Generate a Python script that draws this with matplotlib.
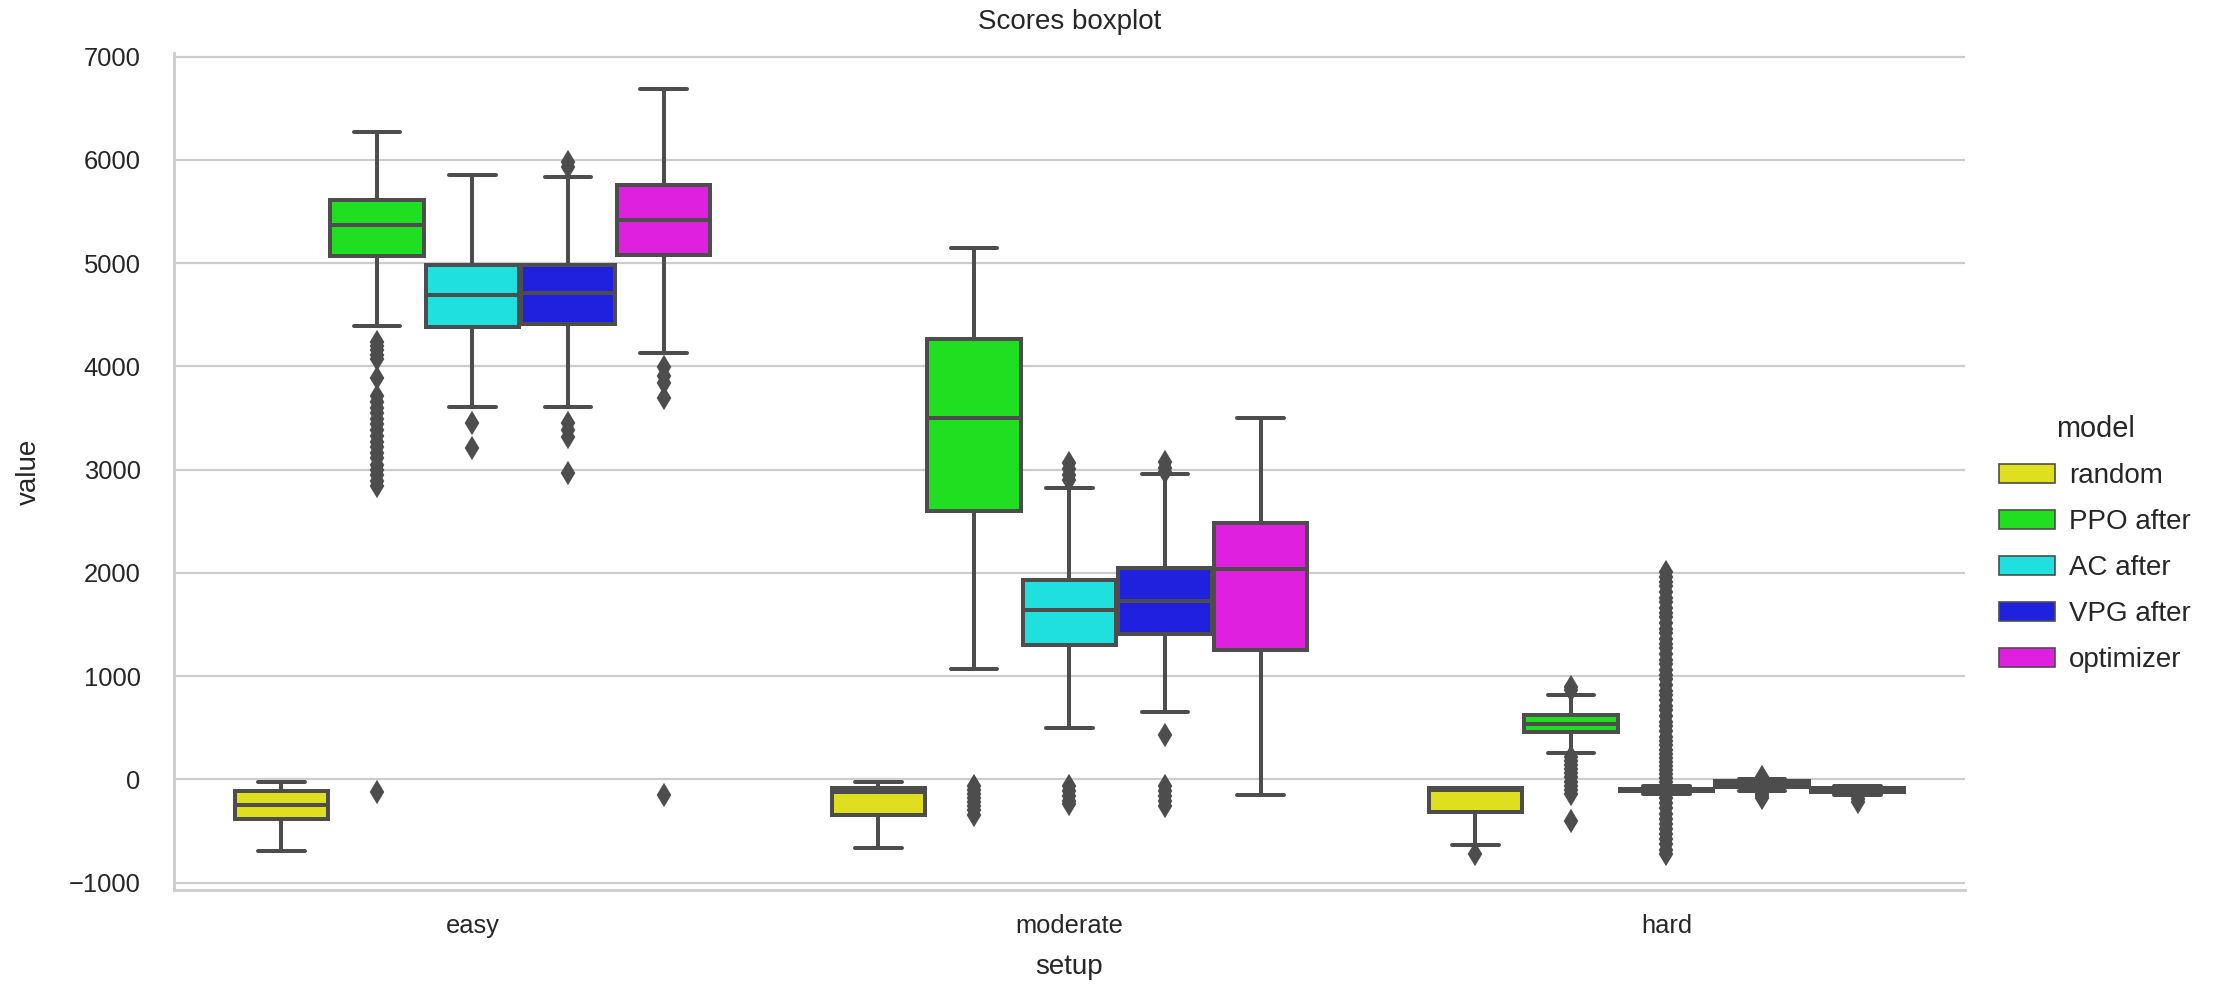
import colorsys

import matplotlib.colors as mcolors
import matplotlib.pyplot as plt
import seaborn as sns
from matplotlib.patches import Rectangle

# categories
setups = ["easy", "moderate", "hard"]
models = ["random", "PPO after", "AC after", "VPG after", "optimizer"]
base_colors = ["yellow", "lime", "cyan", "blue", "magenta"]

# box statistics, one row per setup, one column per model
whislo = [[-690, 4395, 3610, 3610, 4125],
          [-665, 1070, 500, 650, -150],
          [-635, 255, -140, -115, -150]]
q1 = [[-380, 5070, 4385, 4410, 5080],
      [-345, 2600, 1300, 1410, 1255],
      [-315, 460, -112, -70, -120]]
med = [[-245, 5365, 4695, 4710, 5420],
       [-120, 3505, 1640, 1725, 2040],
       [-105, 535, -100, -45, -100]]
q3 = [[-110, 5615, 4985, 4985, 5755],
      [-80, 4265, 1935, 2050, 2480],
      [-85, 620, -90, -15, -80]]
whishi = [[-25, 6270, 5855, 5830, 6690],
          [-25, 5150, 2820, 2960, 3500],
          [-80, 820, -65, 0, -60]]

# outliers
fliers_easy = [
    [],
    [4240, 4200, 4160, 4110, 4070, 3890, 3710, 3660, 3600, 3550, 3490, 3440,
     3380, 3330, 3270, 3220, 3160, 3110, 3050, 3000, 2950, 2890, 2840, -120],
    [3450, 3210],
    [5980, 5930, 3450, 3380, 3320, 2970],
    [3990, 3910, 3840, 3690, -150],
]
fliers_moderate = [
    [],
    [-60, -100, -140, -180, -220, -260, -300, -340],
    [3060, 3010, 2950, 2900, -60, -110, -160, -210, -240],
    [3070, 3020, 2980, 430, -60, -110, -160, -210, -260],
    [],
]
fliers_hard = [
    [-720],
    [900, 870, 220, 180, 140, 100, 60, 20, -20, -60, -100, -140, -400],
    [2010, 1965, 1910, 1870, 1815, 1760, 1720, 1665, 1610, 1570, 1515, 1460,
     1420, 1365, 1310, 1270, 1215, 1160, 1120, 1065, 1010, 970, 915, 860,
     820, 765, 710, 670, 615, 560, 520, 465, 410, 370, 330, 290, 250, 205,
     170, 130, 90, 50, 15, -25, -180, -230, -280, -330, -380, -430, -475,
     -530, -580, -625, -680, -720],
    [20, 10, -140, -160, -180],
    [-160, -190, -220],
]
fliers = [fliers_easy, fliers_moderate, fliers_hard]

sns.set_theme(style="whitegrid", context="notebook")
plt.rcParams["font.family"] = ["Liberation Sans", "DejaVu Sans"]


def desat(name, prop=0.75):
    r, g, b = mcolors.to_rgb(name)
    h, l, s = colorsys.rgb_to_hls(r, g, b)
    return colorsys.hls_to_rgb(h, l, s * prop)


colors = [desat(c) for c in base_colors]
gray = (0.3, 0.3, 0.3)
lw = 1.8

fig = plt.figure(figsize=(13.975, 6.175), dpi=160)
ax = fig.add_axes([0.0778, 0.0992, 0.801, 0.8472])

n = len(models)
width = 0.8 / n
for j, model in enumerate(models):
    stats = []
    positions = []
    for i, setup in enumerate(setups):
        stats.append(dict(med=med[i][j], q1=q1[i][j], q3=q3[i][j],
                          whislo=whislo[i][j], whishi=whishi[i][j],
                          fliers=fliers[i][j]))
        positions.append(i - 0.4 + width * (j + 0.5))
    ax.bxp(stats, positions=positions, widths=width * 0.98, patch_artist=True,
           boxprops=dict(facecolor=colors[j], edgecolor=gray, linewidth=lw),
           whiskerprops=dict(color=gray, linewidth=lw),
           capprops=dict(color=gray, linewidth=lw),
           medianprops=dict(color=gray, linewidth=lw),
           flierprops=dict(marker="d", markerfacecolor=gray,
                           markeredgecolor=gray, markersize=6.5))

ax.set_xticks(range(len(setups)))
ax.set_xticklabels(setups)
ax.set_xlim(-0.5, len(setups) - 0.5)
ax.set_ylim(-1070, 7035)
ax.xaxis.grid(False)
ax.tick_params(axis="y", length=0, pad=15, labelsize=11.5)
ax.tick_params(axis="x", length=0, pad=11, labelsize=11.5)
ax.spines["top"].set_visible(False)
ax.spines["right"].set_visible(False)
ax.set_xlabel("setup", fontsize=12.5, labelpad=7)
ax.set_ylabel("value", fontsize=12.5, labelpad=12)
ax.set_title("Scores boxplot", fontsize=12.5, pad=11)

handles = [Rectangle((0, 0), 0, 0, facecolor=c, edgecolor=gray, linewidth=0.75)
           for c in colors]
fig.legend(handles, models, title="model", loc="upper left",
           bbox_to_anchor=(0.883, 0.605), frameon=False, fontsize=12.5,
           title_fontsize=13, labelspacing=0.72, handletextpad=0.5)

fig.savefig("out.png", dpi=160)
